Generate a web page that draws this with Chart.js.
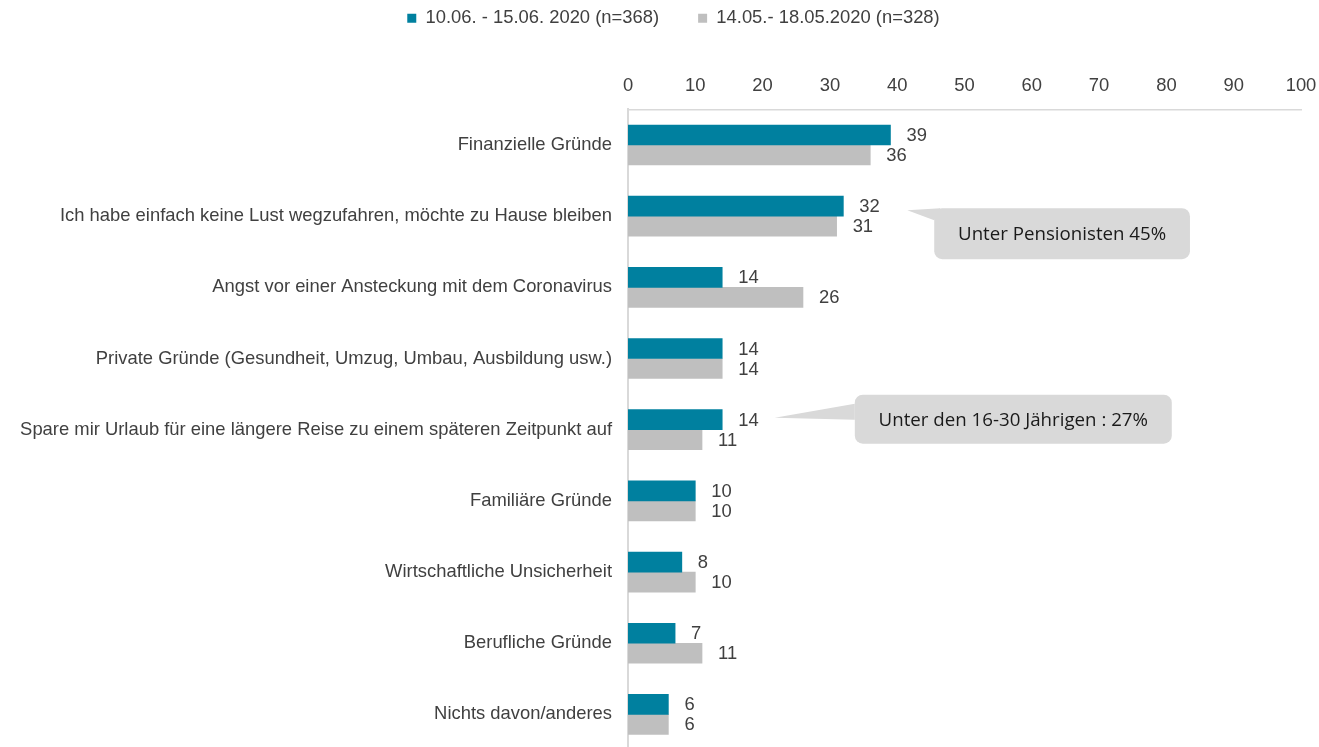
<!DOCTYPE html>
<html lang="de">
<head>
<meta charset="utf-8">
<title>Gründe, nicht zu verreisen</title>
<script src="https://cdn.jsdelivr.net/npm/chart.js@4/dist/chart.umd.min.js"></script>
<style>
    html, body { margin: 0; padding: 0; background: #fff; overflow: hidden; }
    #chart { display: block; }
</style>
</head>
<body>
<canvas id="chart" width="1319" height="750"></canvas>
<script>
// ─── Data ─────────────────────────────────────────────────
const categories = [
    'Finanzielle Gründe',
    'Ich habe einfach keine Lust wegzufahren, möchte zu Hause bleiben',
    'Angst vor einer Ansteckung mit dem Coronavirus',
    'Private Gründe (Gesundheit, Umzug, Umbau, Ausbildung usw.)',
    'Spare mir Urlaub für eine längere Reise zu einem späteren Zeitpunkt auf',
    'Familiäre Gründe',
    'Wirtschaftliche Unsicherheit',
    'Berufliche Gründe',
    'Nichts davon/anderes',
];
const seriesLabels = ['10.06. - 15.06. 2020 (n=368)', '14.05.- 18.05.2020 (n=328)'];
const juneValues   = [39, 32, 14, 14, 14, 10, 8, 7, 6];
const mayValues    = [36, 31, 26, 14, 11, 10, 10, 11, 6];
const axisMin = 0, axisMax = 100, axisStep = 10;

// callout notes (anchored to a category and to x values)
const noteTexts = ['Unter Pensionisten 45%', 'Unter den 16-30 Jährigen : 27%'];
const noteCats  = [1, 4];

// ─── Styles ───────────────────────────────────────────────
const TEAL = '#00809F';
const GREY = '#BFBFBF';
const TEXT = '#404040';
const AXIS = '#D9D9D9';
const FONT = "'Liberation Sans', Arial, sans-serif";
const FS   = 18.4;

// box geometry per note: x in axis units, y in px from category centre
const NOTE_GEOM = [
    { x0: 45.5, x1: 83.5, top: -8,  bottom: 43, tip: [41.5, -6],  base: [[46.4, -8], [45.5, 4]] },
    { x0: 33.7, x1: 80.8, top: -35, bottom: 14, tip: [21.8, -12], base: [[33.7, -26], [33.7, -10]] },
];

Chart.defaults.font.family = FONT;
Chart.defaults.color = TEXT;

// ─── Plugins ──────────────────────────────────────────────
const legendShift = {
    id: 'legendShift',
    afterLayout(chart) {
        // nudge the centred legend row to where the original sits
        chart.legend.left += 23;
        chart.legend.right += 23;
    }
};

const valueLabels = {
    id: 'valueLabels',
    afterDatasetsDraw(chart) {
        const ctx = chart.ctx;
        ctx.save();
        ctx.font = `${FS}px ${FONT}`;
        ctx.fillStyle = TEXT;
        ctx.textAlign = 'left';
        ctx.textBaseline = 'middle';
        chart.data.datasets.forEach((ds, di) => {
            chart.getDatasetMeta(di).data.forEach((bar, i) => {
                ctx.fillText(String(ds.data[i]), bar.x + 16, bar.y + 1);
            });
        });
        ctx.restore();
    }
};

const callouts = {
    id: 'callouts',
    afterDraw(chart) {
        const { ctx, scales: { x, y } } = chart;
        ctx.save();
        noteTexts.forEach((text, n) => {
            const g  = NOTE_GEOM[n];
            const cy = y.getPixelForValue(noteCats[n]);
            const left = x.getPixelForValue(g.x0), right = x.getPixelForValue(g.x1);
            const top = cy + g.top, bottom = cy + g.bottom;
            ctx.fillStyle = '#D9D9D9';
            ctx.beginPath();
            ctx.roundRect(left, top, right - left, bottom - top, 8);
            ctx.fill();
            // pointer wedge
            ctx.beginPath();
            ctx.moveTo(x.getPixelForValue(g.tip[0]), cy + g.tip[1]);
            g.base.forEach(p => ctx.lineTo(x.getPixelForValue(p[0]), cy + p[1]));
            ctx.closePath();
            ctx.fill();
            ctx.fillStyle = '#1A1A1A';
            ctx.font = "18.7px 'Open Sans', sans-serif";
            ctx.textAlign = 'center';
            ctx.textBaseline = 'middle';
            ctx.fillText(text, (left + right) / 2, (top + bottom) / 2 + 1);
        });
        ctx.restore();
    }
};

// ─── Chart ────────────────────────────────────────────────
new Chart(document.getElementById('chart'), {
    type: 'bar',
    data: {
        labels: categories,
        datasets: [
            { label: seriesLabels[0], data: juneValues, backgroundColor: TEAL, borderWidth: 0 },
            { label: seriesLabels[1], data: mayValues,  backgroundColor: GREY, borderWidth: 0 },
        ]
    },
    options: {
        indexAxis: 'y',
        responsive: false,
        animation: false,
        devicePixelRatio: 1,
        barThickness: 20,
        layout: { padding: { top: -30, left: 0, right: 18, bottom: 0 } },
        plugins: {
            legend: {
                position: 'top',
                labels: {
                    boxWidth: 9,
                    boxHeight: 9,
                    padding: 39,
                    color: TEXT,
                    font: { size: FS },
                }
            },
            tooltip: { enabled: false },
        },
        scales: {
            x: {
                position: 'top',
                min: axisMin,
                max: axisMax,
                grid: { display: false, drawTicks: false },
                border: { color: AXIS, width: 1.5 },
                ticks: { stepSize: axisStep, padding: 12, color: TEXT, font: { size: FS } },
                afterFit: s => { s.height = 72; s.paddingLeft = 0; s.paddingRight = 0; },
            },
            y: {
                grid: { display: false, drawTicks: false },
                border: { color: AXIS, width: 2 },
                ticks: { padding: 16, color: TEXT, font: { size: FS }, autoSkip: false },
                afterFit: s => { s.width = 628; s.paddingTop = 0; s.paddingBottom = 0; },
            }
        }
    },
    plugins: [legendShift, valueLabels, callouts]
});
</script>
</body>
</html>
